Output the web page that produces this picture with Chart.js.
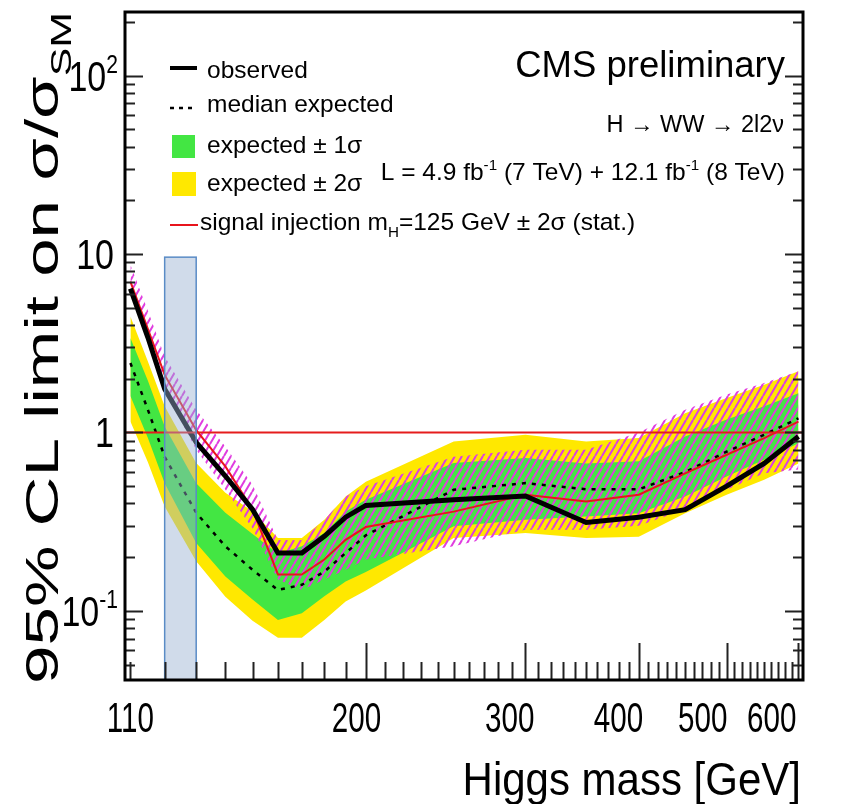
<!DOCTYPE html>
<html>
<head>
<meta charset="utf-8">
<script src="https://cdn.jsdelivr.net/npm/chart.js@4.4.1/dist/chart.umd.min.js"></script>
<style>
  html, body { margin: 0; padding: 0; background: #fff; }
</style>
</head>
<body>
<canvas id="limitChart" width="843" height="804"></canvas>
<script>
// Higgs mass points [GeV]
const masses = [110, 115, 120, 130, 140, 150, 160, 170, 180, 190, 200, 250, 300, 350, 400, 450, 500, 550, 600];
// 95% CL limits on sigma/sigma_SM
const observed   = [6.4, 3.4, 1.75, 0.88, 0.57, 0.37, 0.211, 0.211, 0.262, 0.335, 0.39, 0.42, 0.44, 0.313, 0.335, 0.369, 0.5, 0.67, 0.95];
const expMedian  = [2.45, 1.34, 0.73, 0.355, 0.23, 0.17, 0.131, 0.14, 0.166, 0.211, 0.265, 0.477, 0.52, 0.48, 0.48, 0.6, 0.78, 0.97, 1.2];
const expPlus1   = [3.38, 1.95, 1.08, 0.52, 0.355, 0.27, 0.21, 0.23, 0.273, 0.36, 0.42, 0.674, 0.72, 0.67, 0.69, 0.95, 1.18, 1.4, 1.66];
const expMinus1  = [1.6, 0.93, 0.52, 0.24, 0.156, 0.116, 0.089, 0.097, 0.121, 0.146, 0.165, 0.298, 0.324, 0.338, 0.353, 0.438, 0.567, 0.703, 0.87];
const expPlus2   = [4.46, 2.5, 1.4, 0.674, 0.46, 0.36, 0.256, 0.256, 0.324, 0.438, 0.53, 0.89, 0.97, 0.89, 0.93, 1.28, 1.56, 1.85, 2.2];
const expMinus2  = [1.15, 0.68, 0.385, 0.19, 0.12, 0.088, 0.0707, 0.0707, 0.089, 0.113, 0.13, 0.256, 0.273, 0.256, 0.26, 0.353, 0.448, 0.543, 0.67];
// signal injection mH = 125 GeV, +- 2 sigma (stat.)
const injCentral = [7.0, 3.8, 2.1, 1.03, 0.645, 0.37, 0.16, 0.16, 0.194, 0.25, 0.295, 0.36, 0.448, 0.41, 0.448, 0.59, 0.75, 0.93, 1.15];
const injUp      = [8.7, 4.8, 2.67, 1.34, 0.835, 0.51, 0.25, 0.25, 0.324, 0.438, 0.5, 0.73, 0.8, 0.8, 1.0, 1.34, 1.63, 1.89, 2.2];
const injDown    = [6.0, 3.2, 1.73, 0.8, 0.477, 0.29, 0.15, 0.131, 0.15, 0.17, 0.194, 0.23, 0.285, 0.285, 0.3, 0.37, 0.477, 0.59, 0.62];

// axis ranges and tick labels
const xRange = [108.5, 607];
const yRange = [0.041, 227];
const xTickLabels = [110, 200, 300, 400, 500, 600];
const yTickLabels = [0.1, 1, 10, 100];

// shaded mass window and SM reference line
const windowMass = [120, 130];
const windowTop = 9.6;
const smLine = 1;

const FONT = '"Liberation Sans", Arial, Helvetica, sans-serif';

// magenta hatch for the signal injection band
function makeHatch() {
  const c = document.createElement('canvas');
  c.width = 7; c.height = 12;
  const g = c.getContext('2d');
  g.strokeStyle = '#e03ce0';
  g.lineWidth = 2;
  for (let k = -1; k <= 1; k++) {
    g.beginPath();
    g.moveTo(k * 7, 12);
    g.lineTo(k * 7 + 7, 0);
    g.stroke();
  }
  return g.createPattern(c, 'repeat');
}

function pts(values) {
  return masses.map((m, i) => ({ x: m, y: values[i] }));
}

// draw text made of pieces, some raised (sup) or lowered (sub)
function drawRich(ctx, segs, x, y, size, opts) {
  opts = opts || {};
  const small = size * 0.62;
  let width = 0;
  segs.forEach(([t, k]) => {
    ctx.font = (k ? small : size) + 'px ' + FONT;
    width += ctx.measureText(t).width;
  });
  let sx = opts.sx || 1;
  if (opts.fit) sx = opts.fit / width;
  ctx.save();
  ctx.translate(x, y);
  if (opts.rotate) ctx.rotate(opts.rotate);
  ctx.scale(sx, opts.sy || 1);
  ctx.fillStyle = opts.color || '#000';
  ctx.textBaseline = 'alphabetic';
  ctx.textAlign = 'left';
  let cx = opts.align === 'right' ? -width : opts.align === 'center' ? -width / 2 : 0;
  segs.forEach(([t, k]) => {
    ctx.font = (k ? small : size) + 'px ' + FONT;
    const dy = k === 'sup' ? -size * 0.42 : k === 'sub' ? size * 0.28 : 0;
    ctx.fillText(t, cx, dy);
    cx += ctx.measureText(t).width;
  });
  ctx.restore();
}

function powerLabel(v) {
  const e = Math.round(Math.log10(v));
  if (e === 0) return [['1']];
  if (e === 1) return [['10']];
  return [['10'], [String(e), 'sup']];
}

// shaded window, SM line, frame, inward ticks and axis labels
const framePlugin = {
  id: 'frame',
  afterDatasetsDraw(chart) {
    const { ctx, chartArea: a, scales: { x, y } } = chart;
    ctx.save();
    // SM = 1 line
    const y1 = y.getPixelForValue(smLine);
    ctx.strokeStyle = '#e51c1c';
    ctx.lineWidth = 2;
    ctx.beginPath();
    ctx.moveTo(a.left, y1);
    ctx.lineTo(a.right, y1);
    ctx.stroke();

    // highlighted window
    const wx0 = x.getPixelForValue(windowMass[0]);
    const wx1 = x.getPixelForValue(windowMass[1]);
    const wy = y.getPixelForValue(windowTop);
    ctx.fillStyle = 'rgba(150,176,208,0.45)';
    ctx.fillRect(wx0, wy, wx1 - wx0, a.bottom - wy);
    ctx.strokeStyle = '#5a8cc6';
    ctx.lineWidth = 1.5;
    ctx.strokeRect(wx0, wy, wx1 - wx0, a.bottom - wy);

    // ticks
    ctx.strokeStyle = '#222';
    ctx.lineWidth = 2;
    ctx.beginPath();
    for (let e = -2; e <= 3; e++) {
      for (let k = 1; k <= 9; k++) {
        const v = k * Math.pow(10, e);
        if (v < yRange[0] || v > yRange[1]) continue;
        const py = Math.round(y.getPixelForValue(v)) + 0.5;
        const len = k === 1 ? 18 : 10;
        ctx.moveTo(a.left, py); ctx.lineTo(a.left + len, py);
        ctx.moveTo(a.right, py); ctx.lineTo(a.right - len, py);
      }
    }
    for (let m = 110; m <= 600; m += 10) {
      const px = Math.round(x.getPixelForValue(m)) + 0.5;
      const len = m % 100 === 0 ? 37 : 18;
      ctx.moveTo(px, a.bottom); ctx.lineTo(px, a.bottom - len);
    }
    ctx.stroke();

    // frame
    ctx.strokeStyle = '#000';
    ctx.lineWidth = 3;
    ctx.strokeRect(a.left, a.top, a.right - a.left, a.bottom - a.top);
    ctx.restore();

    // tick labels (the printed labels sit slightly left of their ticks)
    const x0 = x.getPixelForValue(xTickLabels[0]);
    xTickLabels.forEach(v => {
      const px = x0 + (x.getPixelForValue(v) - x0) * 0.96;
      drawRich(ctx, [[String(v)]], px, 732, 34, { align: 'center', sx: 0.87, sy: 1.25 });
    });
    yTickLabels.forEach(v => {
      const right = (v === 1 || v === 10) ? 114 : 118;
      drawRich(ctx, powerLabel(v), right, y.getPixelForValue(v) + 15, 34, { align: 'right', sy: 1.25 });
    });

    // axis titles
    drawRich(ctx, [['Higgs mass [GeV]']], 801, 795, 42, { align: 'right', sy: 1.1 });
    drawRich(ctx, [['95% CL limit on σ/σ'], ['SM', 'sub']], 58, 12, 47,
      { align: 'right', rotate: -Math.PI / 2, fit: 672 });
  }
};

// legend and labels
const legendPlugin = {
  id: 'legendText',
  afterDraw(chart) {
    const ctx = chart.ctx;
    ctx.save();
    ctx.strokeStyle = '#000';
    ctx.lineWidth = 4;
    ctx.beginPath(); ctx.moveTo(170, 68); ctx.lineTo(197, 68); ctx.stroke();
    ctx.lineWidth = 2.5;
    ctx.setLineDash([4, 5]);
    ctx.beginPath(); ctx.moveTo(170, 108); ctx.lineTo(195, 108); ctx.stroke();
    ctx.setLineDash([]);
    ctx.fillStyle = '#43e643';
    ctx.fillRect(172, 135, 23, 23);
    ctx.fillStyle = '#ffe800';
    ctx.fillRect(172, 172, 24, 24);
    ctx.strokeStyle = '#e8141c';
    ctx.lineWidth = 2;
    ctx.beginPath(); ctx.moveTo(170, 225); ctx.lineTo(198, 225); ctx.stroke();
    ctx.restore();

    drawRich(ctx, [['observed']], 207, 78, 24.5);
    drawRich(ctx, [['median expected']], 207, 111.5, 24.5);
    drawRich(ctx, [['expected ± 1σ']], 207, 153, 24.5);
    drawRich(ctx, [['expected ± 2σ']], 207, 191, 24.5);
    drawRich(ctx, [['signal injection m'], ['H', 'sub'], ['=125 GeV ± 2σ (stat.)']], 200, 230, 24.5);

    drawRich(ctx, [['CMS preliminary']], 785, 77, 36.5, { align: 'right' });
    drawRich(ctx, [['H → WW → 2l2ν']], 784, 131.5, 23.5, { align: 'right' });
    drawRich(ctx, [['L = 4.9 fb'], ['-1', 'sup'], [' (7 TeV) + 12.1 fb'], ['-1', 'sup'], [' (8 TeV)']], 785, 180, 24.5, { align: 'right' });
  }
};

const bandYellow = '#ffe800';
const bandGreen = '#43e643';
const clear = 'rgba(0,0,0,0)';

new Chart(document.getElementById('limitChart').getContext('2d'), {
  type: 'line',
  data: {
    datasets: [
      { label: 'expected ± 2σ', data: pts(expPlus2), fill: 1, backgroundColor: bandYellow, borderColor: clear, borderWidth: 0, order: 10 },
      { label: 'exp -2σ', data: pts(expMinus2), fill: false, borderColor: clear, borderWidth: 0, order: 10 },
      { label: 'expected ± 1σ', data: pts(expPlus1), fill: 3, backgroundColor: bandGreen, borderColor: clear, borderWidth: 0, order: 9 },
      { label: 'exp -1σ', data: pts(expMinus1), fill: false, borderColor: clear, borderWidth: 0, order: 9 },
      { label: 'injection ± 2σ', data: pts(injUp), fill: 5, backgroundColor: makeHatch(), borderColor: clear, borderWidth: 0, order: 8 },
      { label: 'injection -2σ', data: pts(injDown), fill: false, borderColor: clear, borderWidth: 0, order: 8 },
      { label: 'median expected', data: pts(expMedian), fill: false, borderColor: '#000', borderWidth: 2.5, borderDash: [4, 6], order: 3 },
      { label: 'signal injection', data: pts(injCentral), fill: false, borderColor: '#e8141c', borderWidth: 2, order: 2 },
      { label: 'observed', data: pts(observed), fill: false, borderColor: '#000', borderWidth: 5, order: 1 }
    ]
  },
  options: {
    responsive: false,
    animation: false,
    devicePixelRatio: 1,
    layout: { padding: { left: 125, right: 40, top: 12, bottom: 124 } },
    elements: { point: { radius: 0 }, line: { tension: 0 } },
    scales: {
      x: { type: 'logarithmic', min: xRange[0], max: xRange[1], display: false },
      y: { type: 'logarithmic', min: yRange[0], max: yRange[1], display: false }
    },
    plugins: {
      legend: { display: false },
      tooltip: { enabled: false }
    }
  },
  plugins: [framePlugin, legendPlugin]
});
</script>
</body>
</html>
